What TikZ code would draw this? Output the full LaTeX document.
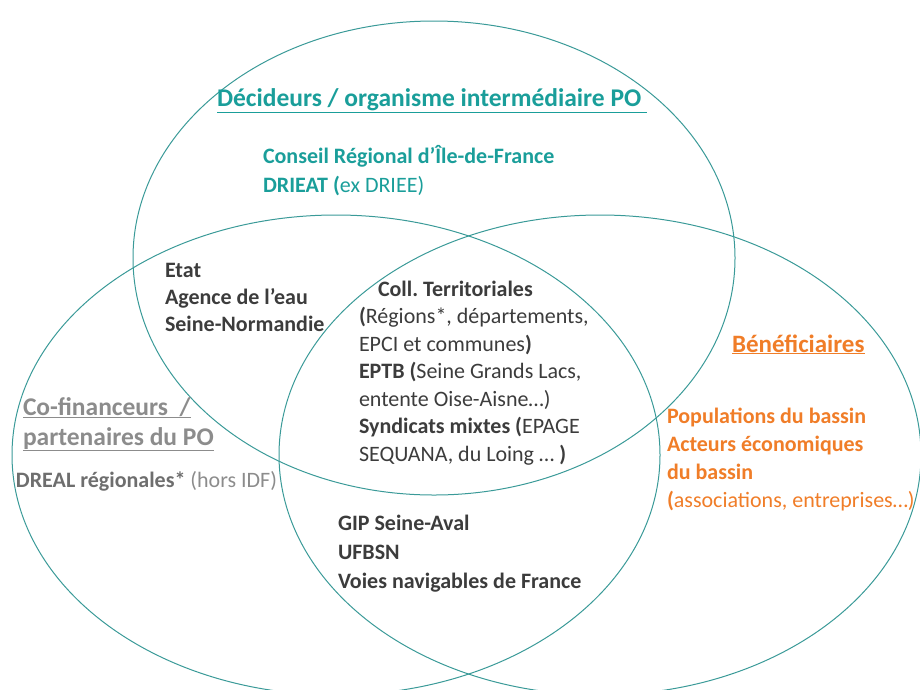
\documentclass[tikz,border=0pt]{standalone}
\usepackage{fontspec}
\setmainfont{Carlito}
\frenchspacing
\definecolor{vennline}{RGB}{58,154,152}
\definecolor{tealtxt}{RGB}{26,158,154}
\definecolor{orangetxt}{RGB}{240,125,40}
\definecolor{graytxt}{RGB}{140,140,140}
\definecolor{dgraytxt}{RGB}{110,110,110}
\definecolor{darktxt}{RGB}{60,60,60}
\begin{document}
\begin{tikzpicture}[x=1pt,y=-1pt,
  venn/.style={draw=vennline, line width=1pt},
  lbl/.style={inner sep=0pt, outer sep=0pt, anchor=base west, align=left,
    font=\fontsize{22}{27.5}\selectfont},
  ttl/.style={inner sep=0pt, outer sep=0pt, anchor=base west, align=left,
    font=\fontsize{25.5}{30}\selectfont\bfseries}]
\useasboundingbox (0,0) rectangle (920,689);
\begin{scope}
\clip (0,0) rectangle (920,689);
\draw[venn] (434,258) ellipse [x radius=301, y radius=237];
\draw[venn] (336,455) ellipse [x radius=324, y radius=240];
\draw[venn] (600,455) ellipse [x radius=321, y radius=240];
\end{scope}
% top circle (anchors are at the baseline of the last line)
\node[ttl, text=tealtxt] (tdec) at (217,106) {\underline{Décideurs / organisme intermédiaire PO\ }};
\node[lbl, text=tealtxt, font=\fontsize{22}{29}\selectfont] (tcr) at (263,192) {\textbf{Conseil Régional d’Île-de-France}\\\textbf{DRIEAT (}ex DRIEE)};
% top-left intersection
\node[lbl, text=darktxt, font=\fontsize{22}{27}\selectfont\bfseries] (tetat) at (165,331) {Etat\\Agence de l’eau\\Seine-Normandie};
% centre
\node[lbl, text=darktxt] (tcoll) at (359,461) {\hspace*{19pt}\textbf{Coll. Territoriales}\\\textbf{(}Régions*, départements,\\EPCI et communes\textbf{)}\\\textbf{EPTB (}Seine Grands Lacs,\\entente Oise-Aisne…)\\\textbf{Syndicats mixtes (}EPAGE\\SEQUANA, du Loing … \textbf{)}};
% right circle
\node[ttl, text=orangetxt, font=\fontsize{25}{30}\selectfont\bfseries] (tben) at (732,352) {\underline{Bénéficiaires}};
\node[lbl, text=orangetxt, font=\fontsize{22}{28}\selectfont] (tpop) at (667,507) {\textbf{Populations du bassin}\\\textbf{Acteurs économiques}\\\textbf{du bassin}\\\textbf{(}associations, entreprises…)};
% left circle
\node[ttl, text=graytxt] (tcof) at (23,445) {\underline{Co-financeurs\ \ /}\\\underline{partenaires du PO}};
\node[lbl, text=dgraytxt] (tdreal) at (16,487) {\textbf{DREAL régionales*} \textcolor{graytxt}{(hors IDF)}};
% bottom intersection
\node[lbl, text=darktxt, font=\fontsize{22}{29}\selectfont\bfseries] (tgip) at (338,588) {GIP Seine-Aval\\UFBSN\\Voies navigables de France};
\end{tikzpicture}
\end{document}
